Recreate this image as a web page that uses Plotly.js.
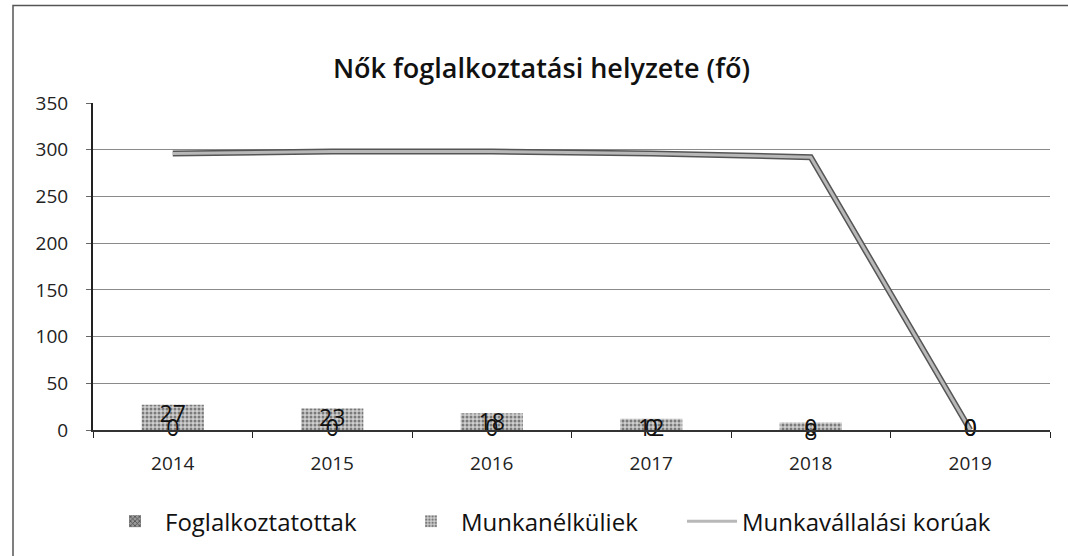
<!DOCTYPE html>
<html>
<head>
<meta charset="utf-8">
<script src="https://cdn.plot.ly/plotly-3.0.1.min.js"></script>
<style>html,body{margin:0;padding:0;background:#fff;}#chart{width:1068px;height:556px;}</style>
</head>
<body>
<div id="chart"></div>
<script>
const years = ['2014', '2015', '2016', '2017', '2018', '2019'];
const foglalkoztatottak = [0, 0, 0, 0, 0, 0];
const munkanelkuliek = [27, 23, 18, 12, 8, 0];
const munkavallalasiKoruak = [296, 298, 298, 296, 292, 0];
const seriesNames = ['Foglalkoztatottak', 'Munkanélküliek', 'Munkavállalási korúak'];
const chartTitle = 'Nők foglalkoztatási helyzete (fő)';

const FONT = 'Open Sans, Noto Sans, sans-serif';

const traces = [
  {
    type: 'bar', name: seriesNames[0], x: years, y: foglalkoztatottak,
    width: 0.39, legend: 'legend',
    marker: {color: '#777', line: {width: 0},
      pattern: {shape: 'x', fgcolor: '#444', bgcolor: '#999', size: 4, solidity: 0.4}},
    hoverinfo: 'skip'
  },
  {
    type: 'bar', name: seriesNames[1], x: years, y: munkanelkuliek,
    width: 0.39, legend: 'legend2',
    marker: {color: '#c0c0c0', line: {width: 0},
      pattern: {shape: '.', fgcolor: '#7a7a7a', bgcolor: '#cfcfcf', size: 4, solidity: 0.45}},
    hoverinfo: 'skip'
  },
  {
    type: 'scatter', mode: 'lines', x: years, y: munkavallalasiKoruak,
    line: {color: '#555', width: 6}, showlegend: false, hoverinfo: 'skip'
  },
  {
    type: 'scatter', mode: 'lines', name: seriesNames[2], x: years, y: munkavallalasiKoruak,
    legend: 'legend3',
    line: {color: '#b8b8b8', width: 3}, hoverinfo: 'skip'
  },
  {
    type: 'scatter', mode: 'text', x: years, y: munkanelkuliek,
    text: munkanelkuliek.map(String),
    textposition: munkanelkuliek.map(v => v === 0 ? 'middle center' : 'bottom center'),
    textfont: {family: FONT, size: 23, color: '#111'},
    showlegend: false, hoverinfo: 'skip', cliponaxis: false
  },
  {
    type: 'scatter', mode: 'text', x: years, y: foglalkoztatottak,
    text: foglalkoztatottak.map(String), textposition: 'middle center',
    textfont: {family: FONT, size: 23, color: '#111'},
    showlegend: false, hoverinfo: 'skip', cliponaxis: false
  }
];

function legendAt(px) {
  return {
    orientation: 'h', x: (px - 93) / 957, xanchor: 'left', y: -0.28, yanchor: 'middle',
    font: {family: FONT, size: 24, color: '#111'}, itemwidth: 50,
    bgcolor: 'rgba(0,0,0,0)'
  };
}

const layout = {
  width: 1068, height: 556,
  paper_bgcolor: '#fff', plot_bgcolor: '#fff',
  margin: {l: 93, r: 18, t: 103, b: 124},
  barmode: 'overlay',
  font: {family: FONT, color: '#222'},
  title: {text: chartTitle, x: 0.507, xanchor: 'center', y: 0.876, yanchor: 'middle',
    font: {family: FONT, size: 27, color: '#111', weight: 600}},
  xaxis: {
    type: 'category', tickson: 'boundaries', ticks: 'outside', ticklen: 6,
    tickcolor: '#222', showline: true, linecolor: '#333', linewidth: 1.5,
    tickfont: {family: FONT, size: 19, color: '#222'}, showgrid: false,
    ticklabelstandoff: 16, fixedrange: true
  },
  yaxis: {
    range: [0, 350], dtick: 50, showline: true, linecolor: '#222', linewidth: 2,
    ticks: 'outside', ticklen: 5, tickcolor: '#666',
    gridcolor: '#8a8a8a', gridwidth: 1, zeroline: false,
    tickfont: {family: FONT, size: 19, color: '#222'}, ticklabelstandoff: 14,
    fixedrange: true
  },
  legend: legendAt(105),
  legend2: legendAt(401),
  legend3: legendAt(682),
  shapes: [
    {type: 'rect', xref: 'paper', yref: 'paper',
      x0: (13 - 93) / 957, x1: (1080 - 93) / 957,
      y0: 1 - (570 - 103) / 329, y1: 1 + (103 - 5) / 329,
      line: {color: '#555', width: 1.5}}
  ]
};

Plotly.newPlot('chart', traces, layout, {displayModeBar: false, staticPlot: true});
</script>
</body>
</html>
